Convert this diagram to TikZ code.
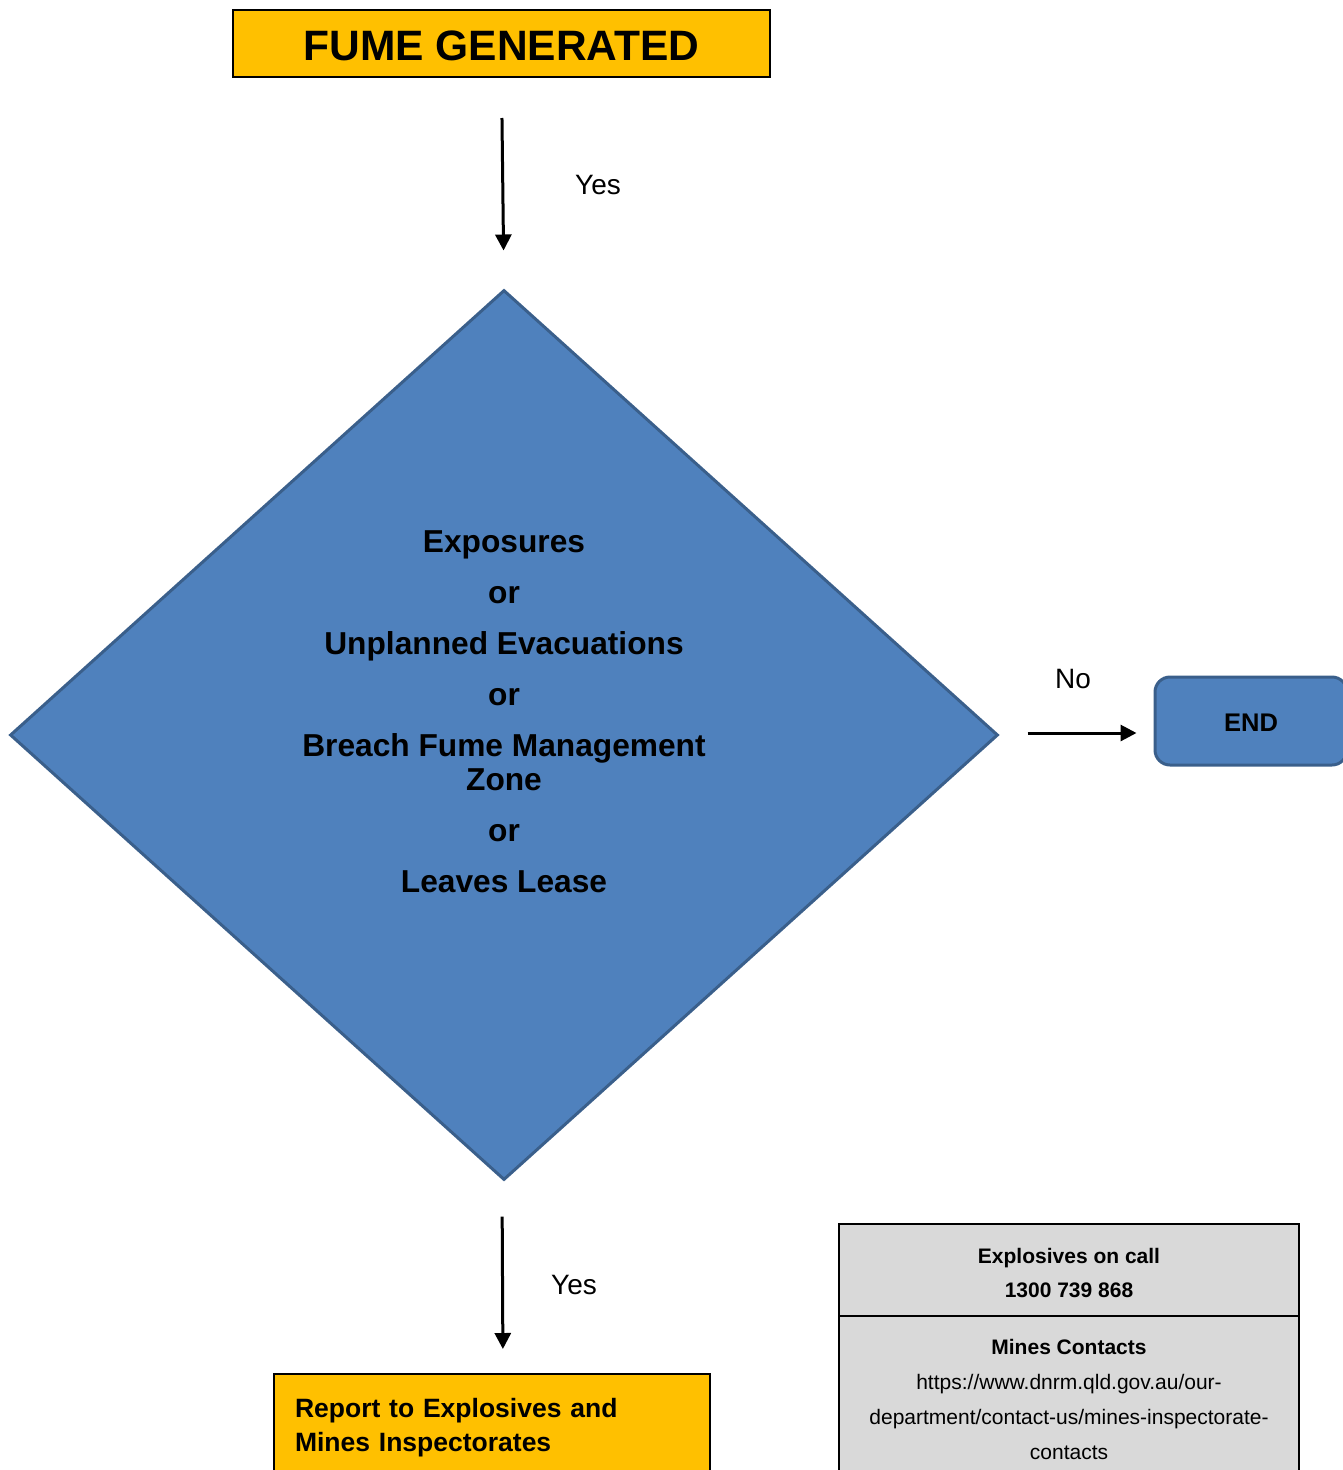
\documentclass[tikz,border=0pt]{standalone}
\usepackage{fontspec}
\setmainfont{Liberation Sans}
\usetikzlibrary{shapes.geometric,arrows.meta,calc}

\definecolor{amber}{HTML}{FFC000}
\definecolor{stepblue}{HTML}{4F81BD}
\definecolor{edgeblue}{HTML}{3A5F8B}
\definecolor{panelgray}{HTML}{D9D9D9}

\tikzset{
  x=1pt, y=-1pt,
  amberbox/.style={draw=black, line width=2pt, fill=amber, inner sep=0pt},
  graybox/.style={draw=black, line width=1.6pt, fill=panelgray, inner sep=0pt,
                  minimum width=460pt, align=center},
  flowarrow/.style={line width=3pt, -{Triangle[length=16pt,width=16pt]}},
  branchlabel/.style={font=\fontsize{28}{32}\selectfont},
}

\begin{document}
\begin{tikzpicture}
  \useasboundingbox (0,0) rectangle (1343,1470);
  \clip (0,0) rectangle (1343,1470);

  % start of the procedure
  \node[amberbox, minimum width=537pt, minimum height=67pt] (fume) at (501.5,43.5) {};
  \node[inner sep=0pt, font=\fontsize{42.5}{48}\selectfont\bfseries] (fumetext)
    at (501.5,45.5) {FUME GENERATED};

  % decision
  \node[shape=diamond, draw=edgeblue, line width=3pt, fill=stepblue, inner sep=0pt,
        minimum width=988pt, minimum height=890pt] (decide) at (504,735) {};
  \node[align=center, inner sep=0pt,
        font=\fontsize{31.7}{34}\selectfont\bfseries] (decidetext) at (504,712)
    {Exposures\\[17pt] or\\[17pt] Unplanned Evacuations\\[17pt] or\\[17pt]
     Breach Fume Management\\ Zone\\[17pt] or\\[17pt] Leaves Lease};

  % end of the procedure
  \node[draw=edgeblue, line width=3pt, fill=stepblue, rounded corners=15pt,
        minimum width=192pt, minimum height=88pt] (finish) at (1251,721) {};
  \node[inner sep=0pt, font=\fontsize{25.5}{30}\selectfont\bfseries] (finishtext)
    at (1251,722.5) {END};

  % reporting step
  \node[amberbox, minimum width=436pt, minimum height=108pt, text width=394pt,
        align=left, font=\fontsize{26.5}{34}\selectfont\bfseries] (report) at (492,1428)
    {Report to Explosives and\\ Mines Inspectorates};

  % contact panels
  \node[graybox, minimum height=92pt] (oncall) at (1069,1270) {};
  \node[align=center, inner sep=0pt, font=\fontsize{21}{34}\selectfont\bfseries]
    (oncalltext) at (1069,1273) {Explosives on call\\ 1300 739 868};
  \node[graybox, minimum height=166pt, font=\fontsize{21}{35}\selectfont]
    (mines) at (1069,1399)
    {\textbf{Mines Contacts}\\ https://www.dnrm.qld.gov.au/our-\\
     department/contact-us/mines-inspectorate-\\ contacts};

  % connectors
  \draw[flowarrow, shorten <=40pt, shorten >=38pt] (fume.south) -- (decide.north);
  \draw[flowarrow, shorten <=28pt, shorten >=17pt] ($(decide.east)+(0,-2)$) -- ($(decide.east -| finish.west)+(0,-2)$);
  \draw[flowarrow, shorten <=35pt, shorten >=24pt] ($(decide.south)+(-2,0)$) -- ($(decide.south |- report.north)+(-1,0)$);

  % branch labels
  \node[branchlabel] (yesone) at (598,185) {Yes};
  \node[branchlabel] (nolabel) at (1073,679) {No};
  \node[branchlabel] (yestwo) at (574,1285) {Yes};
\end{tikzpicture}
\end{document}
